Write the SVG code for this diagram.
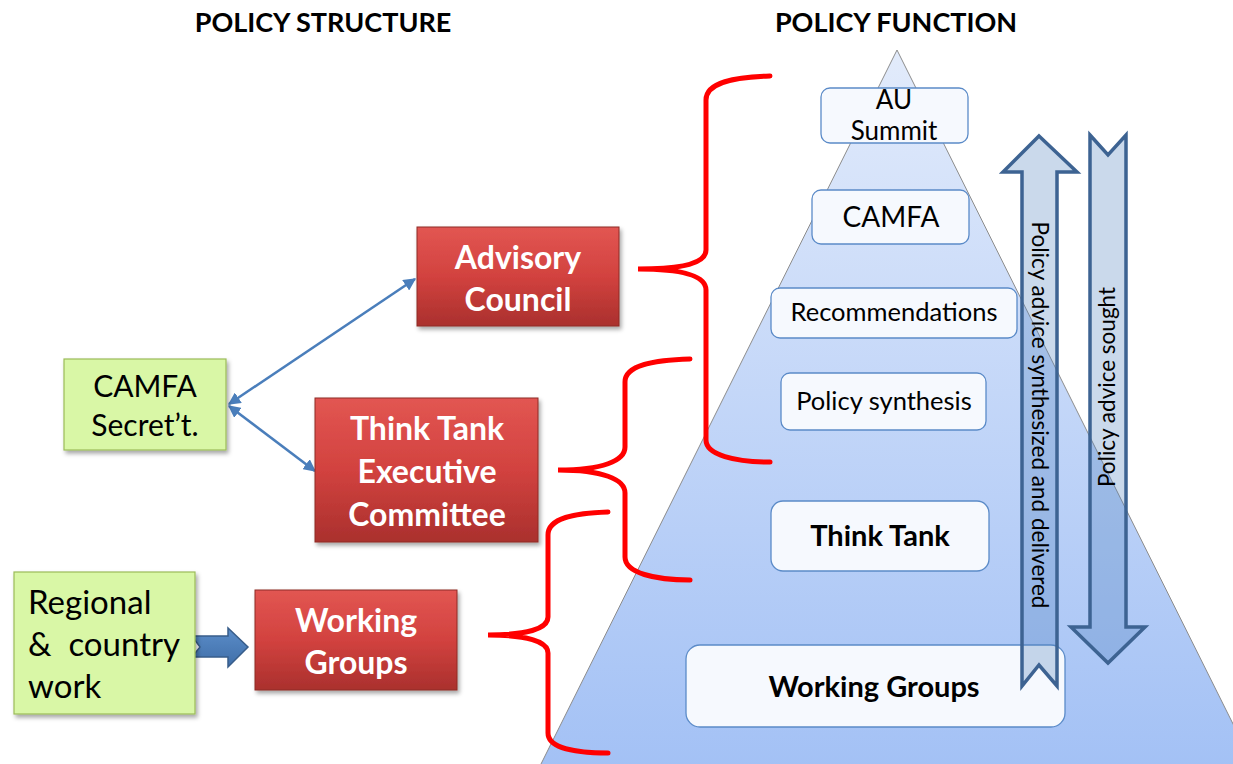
<svg xmlns="http://www.w3.org/2000/svg" width="1233" height="764" viewBox="0 0 1233 764">
<defs>
<linearGradient id="pyr" x1="0" y1="0" x2="0" y2="1">
<stop offset="0" stop-color="#e2ebfb"/>
<stop offset="1" stop-color="#a3c1f5"/>
</linearGradient>
<linearGradient id="red" x1="0" y1="0" x2="0" y2="1">
<stop offset="0" stop-color="#e25652"/>
<stop offset="0.5" stop-color="#d2423f"/>
<stop offset="1" stop-color="#aa302d"/>
</linearGradient>
<linearGradient id="blk" x1="0" y1="0" x2="0" y2="1">
<stop offset="0" stop-color="#5b8dc9"/>
<stop offset="1" stop-color="#3f6ea8"/>
</linearGradient>
<filter id="sh" x="-10%" y="-10%" width="130%" height="130%">
<feDropShadow dx="2" dy="3" stdDeviation="2" flood-color="#000" flood-opacity="0.35"/>
</filter>
<marker id="ah" viewBox="0 0 10 10" refX="9" refY="5" markerWidth="5" markerHeight="5" orient="auto-start-reverse">
<path d="M0,0 L10,5 L0,10 z" fill="#4a7ebb"/>
</marker>
<style>
.hd{font-family:Lato,"Liberation Sans",sans-serif;font-weight:bold;font-size:27px;fill:#000;text-anchor:middle;}
.rb{fill:url(#red);stroke:#8e2a27;stroke-width:1;filter:url(#sh);}
.rt{font-family:Lato,"Liberation Sans",sans-serif;font-weight:bold;font-size:32px;fill:#fff;text-anchor:middle;}
.gb{fill:#d9f7a6;stroke:#9bbb59;stroke-width:1.2;filter:url(#sh);}
.gt{font-family:Lato,"Liberation Sans",sans-serif;font-size:30px;fill:#000;}
.gt2{font-family:Lato,"Liberation Sans",sans-serif;font-size:33px;fill:#000;}
.pb{fill:#f6f9fe;stroke:#5b8bc8;stroke-width:1.3;}
.pt{font-family:Lato,"Liberation Sans",sans-serif;fill:#000;text-anchor:middle;}
.br{fill:none;stroke:#ff0000;stroke-width:5;stroke-linecap:round;}
.ar{fill:#4f81bd;fill-opacity:0.3;stroke:#3d6392;stroke-width:3.5;stroke-linejoin:miter;}
.at{font-family:Lato,"Liberation Sans",sans-serif;font-size:22.5px;fill:#000;text-anchor:middle;}
.cn{fill:none;stroke:#4a7ebb;stroke-width:2.5;}
</style>
</defs>
<rect width="1233" height="764" fill="#ffffff"/>

<text class="hd" x="323" y="32">POLICY STRUCTURE</text>
<text class="hd" x="896" y="32">POLICY FUNCTION</text>

<g id="pyramid">
<polygon points="897,50 1256,770 538,770" fill="url(#pyr)" stroke="#8c8c8c" stroke-width="1"/>
</g>

<g id="braces">
<path class="br" d="M770,76 C735,77 706,82 706,100 L706,250 C706,263 684,269 638,269 C684,269 706,276 706,290 L706,440 C706,455 735,462 770,462"/>
<path class="br" d="M690,359 C655,360 625,365 625,382 L625,447 C625,461 602,470 558,470 C602,470 625,479 625,493 L625,557 C625,573 655,580 690,580"/>
<path class="br" d="M608,512 C575,513 548,518 548,535 L548,617 C548,629 526,635 488,635 C526,635 548,641 548,653 L548,733 C548,748 575,753 608,753"/>
</g>

<g id="au-summit">
<rect class="pb" x="821" y="88" width="147" height="55" rx="9"/>
<text class="pt" x="894" y="109" font-size="26">AU</text>
<text class="pt" x="894" y="140" font-size="26">Summit</text>
</g>
<g id="camfa">
<rect class="pb" x="812" y="190" width="157" height="54" rx="9"/>
<text class="pt" x="891" y="227" font-size="28">CAMFA</text>
</g>
<g id="recommendations">
<rect class="pb" x="771" y="288" width="246" height="50" rx="9"/>
<text class="pt" x="894" y="321" font-size="25.5">Recommendations</text>
</g>
<g id="policy-synthesis">
<rect class="pb" x="781" y="373" width="205" height="57" rx="9"/>
<text class="pt" x="884" y="410" font-size="25.5">Policy synthesis</text>
</g>
<g id="think-tank">
<rect class="pb" x="771" y="501" width="218" height="70" rx="12"/>
<text class="pt" x="880" y="546" font-size="29" font-weight="bold">Think Tank</text>
</g>
<g id="working-groups-box">
<rect class="pb" x="686" y="645" width="379" height="82" rx="14"/>
<text class="pt" x="874" y="697" font-size="29" font-weight="bold">Working Groups</text>
</g>

<g id="arrow-up">
<polygon class="ar" points="1039,136 1077,172 1057,172 1057,686 1039,665 1022,686 1022,172 1003,172"/>
<text class="at" transform="translate(1032,415) rotate(90)">Policy advice synthesized and delivered</text>
</g>
<g id="arrow-down">
<polygon class="ar" points="1090,135 1108,155 1126,135 1126,627 1145,627 1108,663 1071,627 1090,627"/>
<text class="at" transform="translate(1115,387) rotate(-90)">Policy advice sought</text>
</g>

<g id="connectors">
<line class="cn" x1="229" y1="404" x2="415" y2="279" marker-start="url(#ah)" marker-end="url(#ah)"/>
<line class="cn" x1="229" y1="406" x2="315" y2="471" marker-start="url(#ah)" marker-end="url(#ah)"/>
<polygon points="192,636 228,636 228,628 248,647 228,667 228,657 192,657 200,647" fill="url(#blk)" stroke="#385d8a" stroke-width="1.5"/>
</g>

<g id="advisory-council">
<rect class="rb" x="417" y="227" width="202" height="99"/>
<text class="rt" x="518" y="269">Advisory</text>
<text class="rt" x="518" y="311">Council</text>
</g>
<g id="think-tank-exec">
<rect class="rb" x="315" y="398" width="223" height="144"/>
<text class="rt" x="427" y="440">Think Tank</text>
<text class="rt" x="427" y="483">Executive</text>
<text class="rt" x="427" y="526">Committee</text>
</g>
<g id="working-groups">
<rect class="rb" x="255" y="590" width="202" height="100"/>
<text class="rt" x="356" y="632">Working</text>
<text class="rt" x="356" y="674">Groups</text>
</g>
<g id="camfa-secretariat">
<rect class="gb" x="64" y="359" width="162" height="91"/>
<text class="gt" x="145" y="397" text-anchor="middle">CAMFA</text>
<text class="gt" x="145" y="436" text-anchor="middle">Secret’t.</text>
</g>
<g id="regional-country-work">
<rect class="gb" x="14" y="572" width="181" height="142"/>
<text class="gt2" x="28" y="614">Regional</text>
<text class="gt2" x="28" y="656" xml:space="preserve">&amp;  country</text>
<text class="gt2" x="28" y="698">work</text>
</g>
</svg>
